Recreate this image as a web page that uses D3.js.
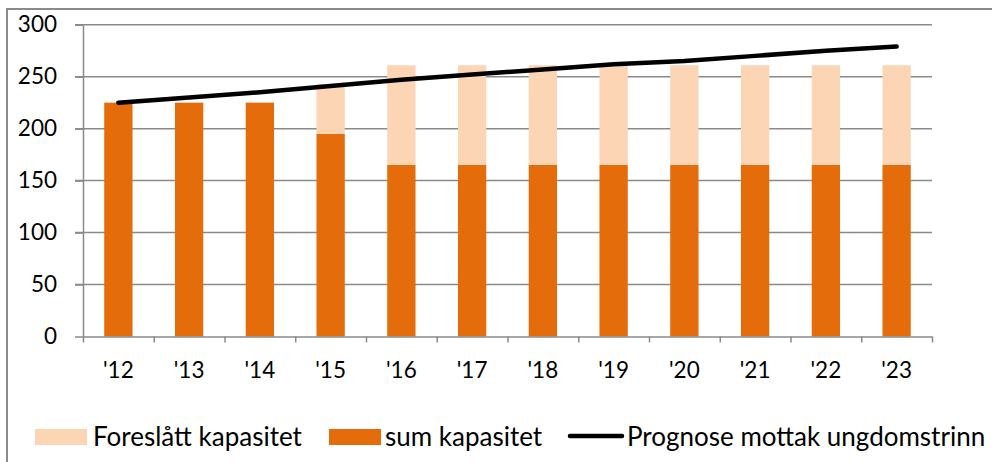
<!DOCTYPE html>
<html>
<head>
<meta charset="utf-8">
<script src="https://cdn.jsdelivr.net/npm/d3@7"></script>
<style>
  html, body { margin: 0; padding: 0; background: #fff; }
  svg { display: block; font-family: Lato, "Open Sans", sans-serif; }
</style>
</head>
<body>
<svg id="chart" width="992" height="462"></svg>
<script>
// Ungdomstrinn: kapasitet og prognose for mottak, skoleår '12–'23
const categories = ["'12", "'13", "'14", "'15", "'16", "'17", "'18", "'19", "'20", "'21", "'22", "'23"];
const sumKapasitet = [225, 225, 225, 195, 165, 165, 165, 165, 165, 165, 165, 165];
const foreslattKapasitet = [0, 0, 0, 48, 96, 96, 96, 96, 96, 96, 96, 96];
const prognoseMottak = [225, 230, 235, 241, 247, 252, 257, 262, 265, 270, 275, 279];
const yTicks = [0, 50, 100, 150, 200, 250, 300];
const legendLabels = ["Foreslått kapasitet", "sum kapasitet", "Prognose mottak ungdomstrinn"];

const colSum = "#E46C0A";
const colForeslatt = "#FCD5B5";
const colGrid = "#8A8A8A";

const svg = d3.select("#chart");

// outer chart frame
svg.append("rect")
  .attr("x", 7).attr("y", 9)
  .attr("width", 1000).attr("height", 500)
  .attr("fill", "none").attr("stroke", colGrid).attr("stroke-width", 2);

const plot = { left: 83, right: 932, top: 24.7, bottom: 336.5 };

const x = d3.scaleBand().domain(categories).range([plot.left, plot.right]).padding(0);
const xIdx = d3.scaleLinear().domain([0, categories.length]).range([plot.left, plot.right]);
const y = d3.scaleLinear().domain([0, 300]).range([plot.bottom, plot.top]);
const barW = x.bandwidth() * 0.4;

// horizontal gridlines (with tick stub left of the axis)
svg.append("g")
  .selectAll("line")
  .data(yTicks.filter(d => d > 0))
  .join("line")
  .attr("x1", plot.left - 8).attr("x2", plot.right)
  .attr("y1", d => y(d)).attr("y2", d => y(d))
  .attr("stroke", colGrid).attr("stroke-width", 1.5);

// stacked bars
const rows = categories.map((c, i) => ({ c, sum: sumKapasitet[i], fore: foreslattKapasitet[i] }));
const bars = svg.append("g");
bars.selectAll("rect.sum")
  .data(rows)
  .join("rect")
  .attr("class", "sum")
  .attr("x", d => x(d.c) + (x.bandwidth() - barW) / 2)
  .attr("width", barW)
  .attr("y", d => y(d.sum))
  .attr("height", d => y(0) - y(d.sum))
  .attr("fill", colSum);
bars.selectAll("rect.fore")
  .data(rows.filter(d => d.fore > 0))
  .join("rect")
  .attr("class", "fore")
  .attr("x", d => x(d.c) + (x.bandwidth() - barW) / 2)
  .attr("width", barW)
  .attr("y", d => y(d.sum + d.fore))
  .attr("height", d => y(d.sum) - y(d.sum + d.fore))
  .attr("fill", colForeslatt);

// y axis
const yAxis = svg.append("g")
  .attr("transform", `translate(${plot.left},0)`)
  .call(d3.axisLeft(y).tickValues(yTicks).tickSize(8).tickSizeOuter(0).tickPadding(18));
yAxis.select(".domain").attr("stroke", colGrid).attr("stroke-width", 1.5);
yAxis.selectAll(".tick line").attr("stroke", colGrid).attr("stroke-width", 1.5);
yAxis.selectAll(".tick text").attr("font-size", 22.5).attr("fill", "#000")
  .attr("font-family", "Lato, sans-serif");

// x axis: boundary ticks
const xTicks = svg.append("g")
  .attr("transform", `translate(0,${plot.bottom})`)
  .call(d3.axisBottom(xIdx).tickValues(d3.range(categories.length + 1)).tickFormat("").tickSize(6).tickSizeOuter(0));
xTicks.select(".domain").attr("stroke", colGrid).attr("stroke-width", 1.5);
xTicks.selectAll(".tick line").attr("stroke", colGrid).attr("stroke-width", 1.5);

// x axis: category labels
const xLab = svg.append("g")
  .attr("transform", `translate(0,${plot.bottom})`)
  .call(d3.axisBottom(x).tickSize(0).tickPadding(0));
xLab.select(".domain").remove();
xLab.selectAll(".tick text")
  .attr("dy", null).attr("y", 41)
  .attr("font-size", 22.5).attr("fill", "#000")
  .attr("font-family", "Lato, sans-serif");

// prognose line
const line = d3.line()
  .x((d, i) => x(categories[i]) + x.bandwidth() / 2)
  .y(d => y(d));
svg.append("path")
  .datum(prognoseMottak)
  .attr("d", line)
  .attr("fill", "none")
  .attr("stroke", "#000")
  .attr("stroke-width", 4.5)
  .attr("stroke-linecap", "round")
  .attr("stroke-linejoin", "round");

// legend
const legend = svg.append("g").attr("font-size", 26).attr("fill", "#000");
const ly = 437;
legend.append("rect").attr("x", 35).attr("y", 429).attr("width", 52).attr("height", 16).attr("fill", colForeslatt);
legend.append("text").attr("x", 93).attr("y", ly).attr("dy", "0.35em").text(legendLabels[0]);
legend.append("rect").attr("x", 329).attr("y", 429).attr("width", 52).attr("height", 16).attr("fill", colSum);
legend.append("text").attr("x", 385).attr("y", ly).attr("dy", "0.35em").text(legendLabels[1]);
legend.append("line").attr("x1", 570).attr("x2", 622).attr("y1", 436).attr("y2", 436)
  .attr("stroke", "#000").attr("stroke-width", 4.5).attr("stroke-linecap", "round");
legend.append("text").attr("x", 627).attr("y", ly).attr("dy", "0.35em").text(legendLabels[2]);
</script>
</body>
</html>
